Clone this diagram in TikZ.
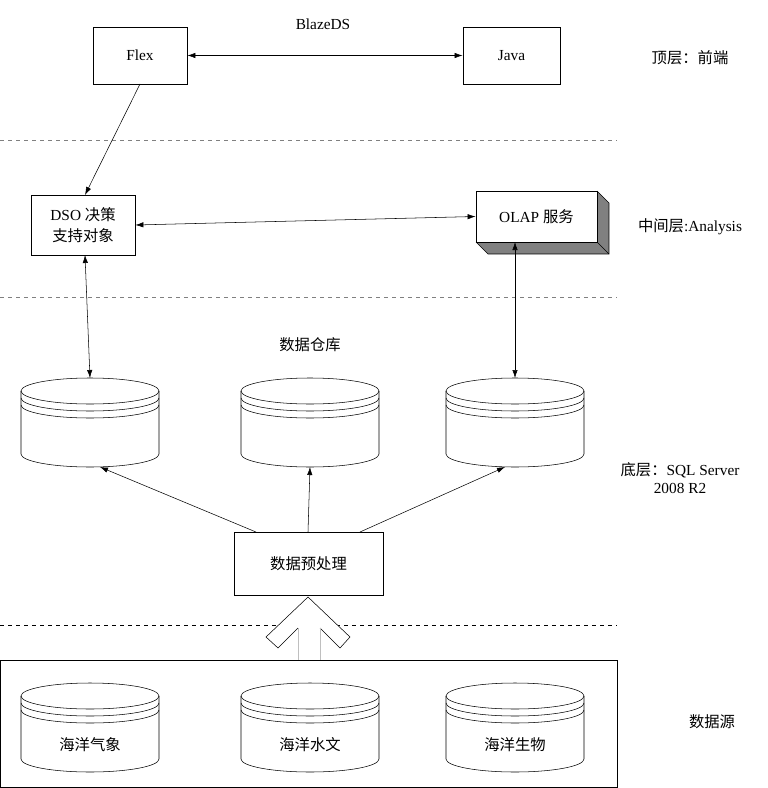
\documentclass[tikz,border=0pt]{standalone}
\usepackage{fontspec}
\setmainfont{Liberation Serif}
\newfontfamily\cjk{Noto Sans CJK SC}
\usetikzlibrary{arrows.meta}
\begin{document}
\begin{tikzpicture}[x=0.75pt,y=-0.75pt,
  every node/.style={font=\fontsize{11.5}{14}\selectfont},
  arr/.style={-{Latex[length=6pt,width=4pt]},line width=0.4pt},
  darr/.style={{Latex[length=6pt,width=4pt]}-{Latex[length=6pt,width=4pt]},line width=0.4pt},
  sep/.style={dashed,gray,line width=0.4pt},
  lbl/.style={align=center}]
\useasboundingbox (0,0) rectangle (767,788);
\newcommand{\mycyl}[4]{% cx, top, bottom, name
  \draw[line width=0.4pt] (#1-69,#2+13) -- (#1-69,#3-13) arc[start angle=180,end angle=360,x radius=69,y radius=-13] -- (#1+69,#2+13);
  \draw[line width=0.4pt] (#1,#2+13) ellipse[x radius=69,y radius=13];
  \draw[line width=0.4pt] (#1-69,#2+20) arc[start angle=180,end angle=360,x radius=69,y radius=-13];
  \draw[line width=0.4pt] (#1-69,#2+27) arc[start angle=180,end angle=360,x radius=69,y radius=-13];
  \coordinate (#4t) at (#1,#2);
  \coordinate (#4b) at (#1,#3);
}
% top layer
\node[draw,line width=0.6pt,minimum width=70.5pt,minimum height=42.75pt] (flex) at (140,55.5) {Flex};
\node[draw,line width=0.6pt,minimum width=72.75pt,minimum height=42.75pt] (java) at (511.5,55.5) {Java};
\node (blaze) at (323,24) {BlazeDS};
\draw[darr] (flex) -- (java);
\node (l1) at (690,58) {\cjk 顶层：前端};
\draw[sep] (0,140) -- (617,140);
% middle
\node[draw,line width=0.6pt,minimum width=78pt,minimum height=45pt,align=center,font=\fontsize{11.5}{16}\selectfont] (dso) at (83,225) {DSO {\cjk 决策}\\{\cjk 支持对象}};
\path[fill=gray] (488,203) rectangle (609,254);
\path[fill=gray] (597,191) -- (609,203) -- (597,203) -- cycle;
\path[fill=gray] (476,242) -- (488,254) -- (488,242) -- cycle;
\draw[line width=0.5pt] (597,191) -- (609,203) -- (609,254) -- (488,254) -- (476,242);
\draw[line width=0.5pt] (597,242) -- (609,254);
\node[draw,fill=white,line width=0.6pt,minimum width=90.75pt,minimum height=38.25pt] (olap) at (536.5,216.5) {OLAP {\cjk 服务}};
\node (l2) at (690,227) {{\cjk 中间层}:Analysis};
\draw[darr] (dso.east) -- (olap.west);
\draw[arr] (140,84) -- (85,195);
\draw[sep] (0,297) -- (617,297);
% warehouse
\node (wh) at (310,345) {\cjk 数据仓库};
\mycyl{90}{378}{467}{c1}
\mycyl{310}{378}{467}{c2}
\mycyl{515}{378}{467}{c3}
\draw[darr] (85,255) -- (c1t);
\draw[darr] (515,242) -- (c3t);
\node[lbl] (l3) at (680,478) {{\cjk 底层：}SQL Server\\2008 R2};
\node[draw,line width=0.6pt,minimum width=111.75pt,minimum height=47.25pt] (pre) at (308.5,563.5) {\cjk 数据预处理};
\draw[arr] (256,532) -- (100,467);
\draw[arr] (308,532) -- (c2b);
\draw[arr] (360,532) -- (505,467);
\draw[dashed,line width=0.5pt] (0,625) -- (617,625);
% hollow arrow
\fill[white] (308,597) -- (350,637) -- (340,648) -- (320,628) -- (320,660) -- (298,660) -- (298,628) -- (278,648) -- (266,637) -- cycle;
\draw[line width=0.4pt] (298,628) -- (278,648) -- (266,637) -- (308,597) -- (350,637) -- (340,648) -- (320,628);
\draw[gray!50,line width=0.6pt] (298,628) -- (298,660) (320,628) -- (320,660);
% sources
\draw[line width=0.6pt] (0,660) rectangle (617,787);
\mycyl{90}{683}{772}{s1}
\mycyl{310}{683}{772}{s2}
\mycyl{515}{683}{772}{s3}
\node (t1) at (90,745) {\cjk 海洋气象};
\node (t2) at (310,745) {\cjk 海洋水文};
\node (t3) at (515,745) {\cjk 海洋生物};
\node (l4) at (712,722) {\cjk 数据源};
\end{tikzpicture}
\end{document}
